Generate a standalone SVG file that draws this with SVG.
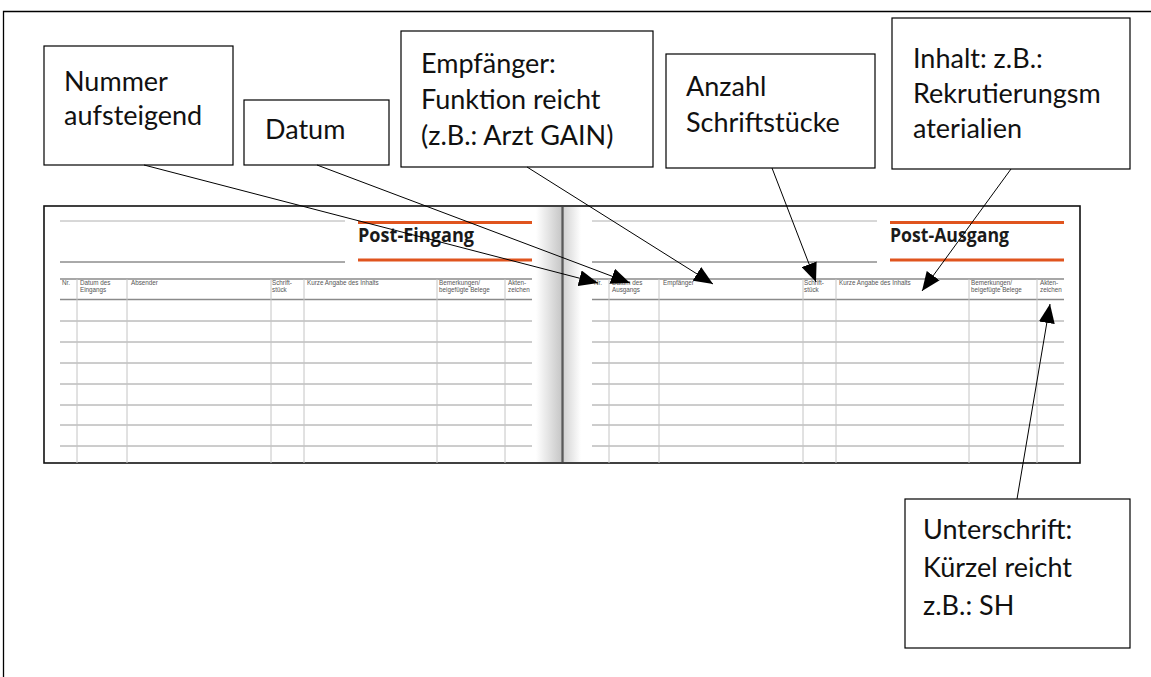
<svg xmlns="http://www.w3.org/2000/svg" width="1151" height="677" viewBox="0 0 1151 677">
  <defs>
    <style>
      .frame { fill: none; stroke: #000; stroke-width: 1.3; }
      .box { fill: #fff; stroke: #000; stroke-width: 1.2; }
      .lbl { font-family: Lato, "Liberation Sans", sans-serif; font-size: 27px; fill: #111; }
      .book { fill: #fff; stroke: #111; stroke-width: 1.6; }
      .thin { stroke: #b0b0b0; stroke-width: 1; }
      .dark { stroke: #555; stroke-width: 1; }
      .orange { stroke: #e0541e; stroke-width: 3; }
      .head { stroke: #8a8a8a; stroke-width: 1.6; }
      .row { stroke: #9a9a9a; stroke-width: 1; }
      .col { stroke: #c4c4c4; stroke-width: 1; }
      .title { font-family: "Open Sans", "Liberation Sans", sans-serif; font-weight: bold; font-size: 20px; fill: #1a1a1a; }
      .th { font-family: "Liberation Sans", Arial, sans-serif; font-size: 6.3px; fill: #555; }
      .conn { stroke: #000; stroke-width: 1; fill: none; marker-end: url(#arrow); }
    </style>
    <marker id="arrow" markerUnits="userSpaceOnUse" markerWidth="20" markerHeight="16" refX="19" refY="8" orient="auto">
      <path d="M0,0 L19,8 L0,16 Z" fill="#000"/>
    </marker>
    <linearGradient id="gutterL" x1="0" y1="0" x2="1" y2="0">
      <stop offset="0" stop-color="#fff"/>
      <stop offset="1" stop-color="#c8c8c8"/>
    </linearGradient>
    <linearGradient id="gutterR" x1="0" y1="0" x2="1" y2="0">
      <stop offset="0" stop-color="#d4d4d4"/>
      <stop offset="1" stop-color="#fff"/>
    </linearGradient>
    <!-- one page of the register: title rules, header rules, row rules, column rules -->
    <g id="pageRules">
      <line class="thin" x1="60" y1="221" x2="345" y2="221"/>
      <line class="dark" x1="60" y1="262" x2="345" y2="262"/>
      <line class="orange" x1="358" y1="222.5" x2="532" y2="222.5"/>
      <line class="orange" x1="358" y1="260" x2="532" y2="260"/>
      <line class="head" x1="60" y1="279" x2="532" y2="279"/>
      <line class="head" x1="60" y1="299.5" x2="532" y2="299.5"/>
      <line class="row" x1="60" y1="321" x2="532" y2="321"/>
      <line class="row" x1="60" y1="342" x2="532" y2="342"/>
      <line class="row" x1="60" y1="363" x2="532" y2="363"/>
      <line class="row" x1="60" y1="384" x2="532" y2="384"/>
      <line class="row" x1="60" y1="405" x2="532" y2="405"/>
      <line class="row" x1="60" y1="425" x2="532" y2="425"/>
      <line class="row" x1="60" y1="446" x2="532" y2="446"/>
      <line class="col" x1="77" y1="279" x2="77" y2="463"/>
      <line class="col" x1="127" y1="279" x2="127" y2="463"/>
      <line class="col" x1="271" y1="279" x2="271" y2="463"/>
      <line class="col" x1="304" y1="279" x2="304" y2="463"/>
      <line class="col" x1="437" y1="279" x2="437" y2="463"/>
      <line class="col" x1="505" y1="279" x2="505" y2="463"/>
      <text class="th" x="62" y="285">Nr.</text>
      <text class="th" x="272" y="285">Schrift-</text>
      <text class="th" x="272" y="292">stück</text>
      <text class="th" x="307" y="285">Kurze Angabe des Inhalts</text>
      <text class="th" x="439" y="285">Bemerkungen/</text>
      <text class="th" x="439" y="292">beigefügte Belege</text>
      <text class="th" x="508" y="285">Akten-</text>
      <text class="th" x="508" y="292">zeichen</text>
    </g>
  </defs>

  <!-- page frame, open on the right and bottom -->
  <path class="frame" d="M3.5,677 L3.5,11.5 L1151,11.5"/>

  <!-- opened register book -->
  <g id="book">
    <rect class="book" x="44" y="206" width="1036" height="257"/>
    <rect x="536" y="207" width="25" height="255" fill="url(#gutterL)"/>
    <rect x="564" y="207" width="17" height="255" fill="url(#gutterR)"/>
    <line x1="562.5" y1="207" x2="562.5" y2="462" stroke="#5a5a5a" stroke-width="2.5"/>

    <g id="page-in">
      <use href="#pageRules"/>
      <text class="title" x="358" y="242" textLength="116" lengthAdjust="spacingAndGlyphs">Post-Eingang</text>
      <text class="th" x="80" y="285">Datum des</text>
      <text class="th" x="80" y="292">Eingangs</text>
      <text class="th" x="131" y="285">Absender</text>
    </g>
    <g id="page-out">
      <use href="#pageRules" transform="translate(532,0)"/>
      <text class="title" x="890" y="242" textLength="119" lengthAdjust="spacingAndGlyphs">Post-Ausgang</text>
      <text class="th" x="612" y="285">Datum des</text>
      <text class="th" x="612" y="292">Ausgangs</text>
      <text class="th" x="663" y="285">Empfänger</text>
    </g>
  </g>

  <!-- callout boxes -->
  <g id="n-nummer">
    <rect class="box" x="44" y="46" width="189" height="119"/>
    <text class="lbl" x="64" y="91">Nummer</text>
    <text class="lbl" x="64" y="125">aufsteigend</text>
  </g>
  <g id="n-datum">
    <rect class="box" x="244" y="100" width="145" height="65"/>
    <text class="lbl" x="265" y="139">Datum</text>
  </g>
  <g id="n-empfaenger">
    <rect class="box" x="401" y="31" width="252" height="136"/>
    <text class="lbl" x="421" y="73">Empfänger:</text>
    <text class="lbl" x="421" y="109">Funktion reicht</text>
    <text class="lbl" x="421" y="145">(z.B.: Arzt GAIN)</text>
  </g>
  <g id="n-anzahl">
    <rect class="box" x="666" y="54" width="209" height="114"/>
    <text class="lbl" x="686" y="96">Anzahl</text>
    <text class="lbl" x="686" y="132">Schriftstücke</text>
  </g>
  <g id="n-inhalt">
    <rect class="box" x="892" y="18" width="238" height="151"/>
    <text class="lbl" x="913" y="68">Inhalt: z.B.:</text>
    <text class="lbl" x="913" y="103">Rekrutierungsm</text>
    <text class="lbl" x="913" y="138">aterialien</text>
  </g>
  <g id="n-unterschrift">
    <rect class="box" x="905" y="499" width="225" height="149"/>
    <text class="lbl" x="923" y="539">Unterschrift:</text>
    <text class="lbl" x="923" y="577">Kürzel reicht</text>
    <text class="lbl" x="923" y="615">z.B.: SH</text>
  </g>

  <!-- connectors -->
  <g id="connectors">
    <line class="conn" x1="144" y1="165" x2="598" y2="283"/>
    <line class="conn" x1="317" y1="165" x2="630" y2="283"/>
    <line class="conn" x1="527" y1="167" x2="713" y2="284"/>
    <line class="conn" x1="772" y1="168" x2="816" y2="282"/>
    <line class="conn" x1="1011" y1="169" x2="922" y2="291"/>
    <line class="conn" x1="1017" y1="499" x2="1050" y2="304"/>
  </g>
</svg>
